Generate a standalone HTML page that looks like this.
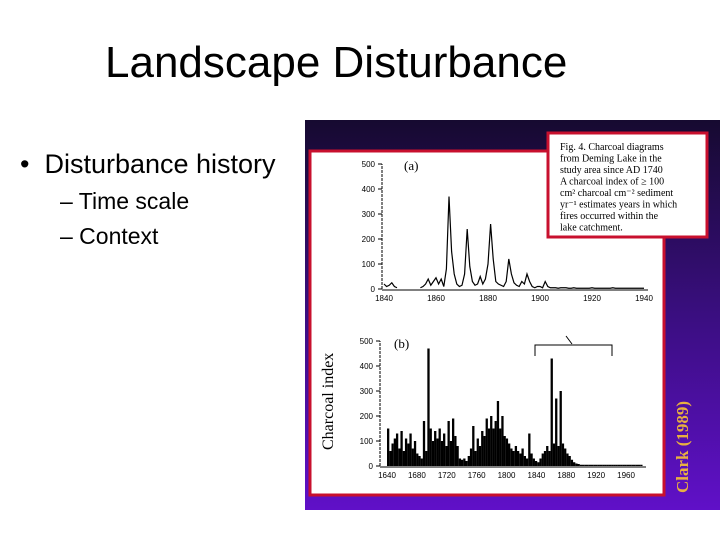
<!DOCTYPE html>
<html><head><meta charset="utf-8"><style>
body{margin:0;width:720px;height:540px;background:#fff;position:relative;overflow:hidden;font-family:"Liberation Sans",Arial,sans-serif}
.t{position:absolute;white-space:nowrap;color:#000}
</style></head><body>
<div class="t" style="left:105px;top:38px;font-size:44px">Landscape Disturbance</div>
<div class="t" style="left:20px;top:149px;font-size:27px">•&nbsp; Disturbance history</div>
<div class="t" style="left:60px;top:188px;font-size:23px">– Time scale</div>
<div class="t" style="left:60px;top:223px;font-size:23px">– Context</div>
<svg width="720" height="540" style="position:absolute;left:0;top:0">
<defs><linearGradient id="bg" x1="0" y1="0" x2="0" y2="1"><stop offset="0" stop-color="#160a30"/><stop offset="0.5" stop-color="#3a0e80"/><stop offset="1" stop-color="#6010c8"/></linearGradient></defs>
<rect x="305" y="120" width="415" height="390" fill="url(#bg)"/>
<rect x="310" y="151" width="354" height="344" fill="#fff" stroke="#c8102e" stroke-width="3"/>
<g id="plots"></g>
<text transform="translate(333,450) rotate(-90)" font-family="Liberation Serif,serif" font-size="16" fill="#000">Charcoal index</text>
<text transform="translate(688,493) rotate(-90)" font-family="Liberation Serif,serif" font-size="17" font-weight="bold" fill="#e8b040">Clark (1989)</text>
<rect x="548" y="133" width="159" height="104" fill="#fff" stroke="#c8102e" stroke-width="3"/>
<g font-family="Liberation Serif,serif" font-size="10" fill="#000">
<text x="560" y="150">Fig. 4. Charcoal diagrams</text>
<text x="560" y="161.5">from Deming Lake in the</text>
<text x="560" y="173">study area since AD 1740</text>
<text x="560" y="184.5">A charcoal index of ≥ 100</text>
<text x="560" y="196">cm² charcoal cm⁻² sediment</text>
<text x="560" y="207.5">yr⁻¹ estimates years in which</text>
<text x="560" y="219">fires occurred within the</text>
<text x="560" y="230.5">lake catchment.</text>
</g>
</svg>
<script>
// panel (a): yearly values from 1840 (null = no data)
const yearsA0 = 1840;
const valuesA = [20,10,15,25,10,5,null,null,null,null,null,null,null,null,5,10,20,40,15,30,45,20,40,10,80,370,150,60,20,10,15,60,240,90,30,15,20,50,20,40,100,260,120,30,20,15,10,30,120,60,25,15,10,30,20,60,30,10,5,10,10,5,30,10,5,5,5,3,5,5,5,3,3,5,3,3,3,3,3,3,5,3,3,3,3,3,3,3,5,3,3,3,3,3,3,3,3,3,3,3,3];
const ticksYA = [0,100,200,300,400,500];
const ticksXA = [1840,1860,1880,1900,1920,1940];
// panel (b): values every 3 years from 1640
const yearsB0 = 1640, stepB = 3;
const valuesB = [150,60,90,110,130,70,140,60,110,90,130,70,100,50,40,30,180,60,470,150,100,140,110,150,100,130,80,180,100,190,120,80,30,25,30,20,40,70,160,60,110,80,140,120,190,150,200,150,180,260,150,200,120,110,90,70,60,80,60,50,70,40,30,130,50,30,20,15,30,50,60,80,60,430,90,270,80,300,90,70,50,40,25,15,10,8,5,5,5,5,5,5,5,5,5,5,5,5,5,5,5,5,5,5,5,5,5,5,5,5,5,5,5,5];
const ticksYB = [0,100,200,300,400,500];
const ticksXB = [1640,1680,1720,1760,1800,1840,1880,1920,1960];
const NS='http://www.w3.org/2000/svg';
const g=document.getElementById('plots');
function mk(t,a){const e=document.createElementNS(NS,t);for(const k in a)e.setAttribute(k,a[k]);g.appendChild(e);return e;}
function axes(x0,x1,y0,xs,ys,ticksX,ticksY,nameP){
  const ax=mk('line',{x1:x0,y1:y0,x2:x0,y2:ys(500),stroke:'#000','stroke-width':1,'stroke-dasharray':'3,1'});
  
  
  const bx=mk('line',{x1:x0,y1:y0+1,x2:x1,y2:y0+1,stroke:'#000','stroke-width':1});
  
  
  ticksY.forEach(v=>{const t=mk('text',{x:x0-7,y:ys(v)+3,'font-size':8,'text-anchor':'end','font-family':'Liberation Sans,sans-serif'});t.textContent=v;
    
    
    mk('line',{x1:x0-4,y1:ys(v),x2:x0,y2:ys(v),stroke:'#000'});});
  ticksX.forEach(v=>{const t=mk('text',{x:xs(v),y:y0+12,'font-size':8,'text-anchor':'middle','font-family':'Liberation Sans,sans-serif'});t.textContent=v;
    
    });
}
// panel a
const xA=y=>540+(y-1900)*2.6, yA=v=>289-v*0.25;
axes(382,648,289,xA,yA,ticksXA,ticksYA,'panel-a');
let d='',pen=false;valuesA.forEach((v,i)=>{if(v===null){pen=false;return;}const x=xA(yearsA0+i);d+=(pen?'L':'M')+x.toFixed(1)+','+yA(v);pen=true;});
const pa=mk('path',{d:d,fill:'none',stroke:'#000','stroke-width':1.2});


const la=mk('text',{x:404,y:170,'font-size':13,'font-family':'Liberation Serif,serif'});la.textContent='(a)';


// panel b
const xB=y=>387+(y-1640)*0.747, yB=v=>466-v*0.25;
axes(380,646,466,xB,yB,ticksXB,ticksYB,'panel-b');
valuesB.forEach((v,i)=>{const x=xB(yearsB0+i*stepB);
  const b=mk('rect',{x:x,y:yB(v),width:2.3,height:466-yB(v),fill:'#000'});
  
  });
const lb=mk('text',{x:394,y:348,'font-size':13,'font-family':'Liberation Serif,serif'});lb.textContent='(b)';


const br=mk('path',{d:'M535,356V345H612V356M566,336L572,344',fill:'none',stroke:'#000','stroke-width':1});


</script>
</body></html>
